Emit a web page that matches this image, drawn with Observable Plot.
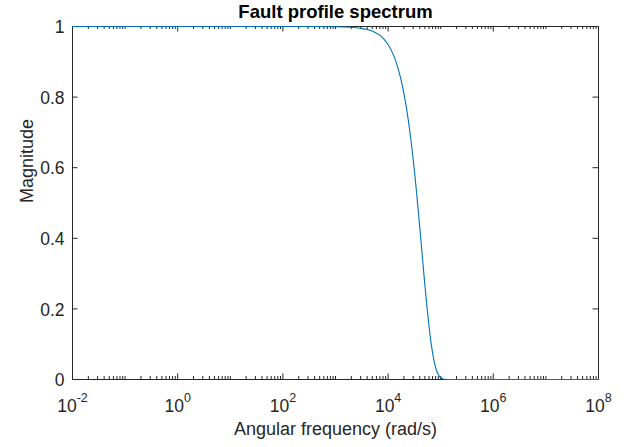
<!DOCTYPE html>
<html>
<head>
<meta charset="utf-8">
<script src="https://cdn.jsdelivr.net/npm/d3@7"></script>
<script src="https://cdn.jsdelivr.net/npm/@observablehq/plot@0.6"></script>
<style>
  html, body { margin: 0; padding: 0; background: white; }
</style>
</head>
<body>
<div id="chart"></div>
<script>
// ---- data ----
const freq = [0.01, 1, 100, 1000, 2000, 3000, 5000, 8000, 10000, 12500, 15000, 17500, 20000, 22500, 25000, 27500, 30000, 32500, 35000, 37500, 40000, 42500, 45000, 47500, 50000, 55000, 60000, 65000, 70000, 75000, 80000, 90000, 100000, 110000, 120000, 150000, 1e6, 1e8];
const magnitude = [1, 1, 1, 0.9995, 0.998, 0.995, 0.987, 0.967, 0.949, 0.921, 0.888, 0.851, 0.81, 0.766, 0.72, 0.672, 0.623, 0.574, 0.525, 0.477, 0.431, 0.387, 0.345, 0.305, 0.268, 0.204, 0.15, 0.108, 0.076, 0.052, 0.034, 0.014, 0.005, 0.0017, 0.0005, 0, 0, 0];

const xMajorExponents = [-2, 0, 2, 4, 6, 8];
const xMinorDecades = [-2, -1, 0, 1, 2, 3, 4, 5, 6, 7];
const yTicks = [0, 0.2, 0.4, 0.6, 0.8, 1];
const yTickLabels = ["0", "0.2", "0.4", "0.6", "0.8", "1"];

const titleText = "Fault profile spectrum";
const xLabelText = "Angular frequency (rad/s)";
const yLabelText = "Magnitude";

// ---- build ----
const data = freq.map((f, i) => ({f, m: magnitude[i]}));
const xMajor = xMajorExponents.map(e => Math.pow(10, e));
const xMinor = [];
for (const e of xMinorDecades) {
  for (let k = 1; k <= 9; k++) {
    if (k === 1 && xMajorExponents.includes(e)) continue;
    xMinor.push(k * Math.pow(10, e));
  }
}

const W = 631, H = 447;
const mL = 72, mR = 33, mT = 26, mB = 68;
const fw = W - mL - mR, fh = H - mT - mB;
const axisColor = "#262626";
const majorLen = 5.5, minorLen = 3;
const EXP_MARK = "\u00a7";

const chart = Plot.plot({
  width: W,
  height: H,
  marginLeft: mL, marginRight: mR, marginTop: mT, marginBottom: mB,
  style: {fontFamily: "'Liberation Sans', Arial, Helvetica, sans-serif", fontSize: "17.5px", color: axisColor, background: "white"},
  x: {type: "log", domain: [1e-2, 1e8], axis: null},
  y: {domain: [0, 1], axis: null},
  marks: [
    // x ticks (inward, bottom and top)
    Plot.ruleX(xMajor, {x: d => d, insetTop: fh - majorLen, stroke: axisColor, strokeWidth: 1}),
    Plot.ruleX(xMajor, {x: d => d, insetBottom: fh - majorLen, stroke: axisColor, strokeWidth: 1}),
    Plot.ruleX(xMinor, {x: d => d, insetTop: fh - minorLen, stroke: axisColor, strokeWidth: 1}),
    Plot.ruleX(xMinor, {x: d => d, insetBottom: fh - minorLen, stroke: axisColor, strokeWidth: 1}),
    // y ticks (inward, left and right)
    Plot.ruleY(yTicks, {y: d => d, insetRight: fw - majorLen, stroke: axisColor, strokeWidth: 1}),
    Plot.ruleY(yTicks, {y: d => d, insetLeft: fw - majorLen, stroke: axisColor, strokeWidth: 1}),
    Plot.frame({stroke: axisColor, strokeWidth: 1}),
    // curve
    Plot.line(data, {x: "f", y: "m", stroke: "#0072BD", strokeWidth: 1.1, curve: "monotone-x"}),
    // y tick labels
    Plot.text(yTicks, {y: d => d, frameAnchor: "left", dx: -8, dy: 1, textAnchor: "end", lineAnchor: "middle", text: (d, i) => yTickLabels[i], fill: axisColor}),
    // x tick labels (base; exponent added after render)
    Plot.text(xMajor, {x: d => d, frameAnchor: "bottom", dy: 27, lineAnchor: "middle", text: (d, i) => EXP_MARK + xMajorExponents[i], fill: axisColor}),
    // title
    Plot.text([titleText], {frameAnchor: "top", dy: -14, lineAnchor: "middle", text: d => d, fontWeight: "bold", fontSize: 18.5, fill: "#000"}),
    // x label
    Plot.text([xLabelText], {frameAnchor: "bottom", dy: 50, lineAnchor: "middle", text: d => d, fontSize: 18, fill: axisColor}),
    // y label
    Plot.text([yLabelText], {frameAnchor: "left", dx: -45, rotate: -90, lineAnchor: "middle", text: d => d, fontSize: 18, fill: axisColor})
  ]
});

// superscript exponents on x tick labels
d3.select(chart).selectAll("text").each(function() {
  const t = d3.select(this);
  const s = t.text();
  if (!s.startsWith(EXP_MARK)) return;
  const exp = s.slice(EXP_MARK.length);
  t.selectAll("*").remove();
  t.text("");
  t.attr("text-anchor", "middle");
  t.append("tspan").text("10");
  t.append("tspan").attr("dy", -10).attr("font-size", "12.5px").text(exp);
});

document.getElementById("chart").appendChild(chart);
</script>
</body>
</html>
